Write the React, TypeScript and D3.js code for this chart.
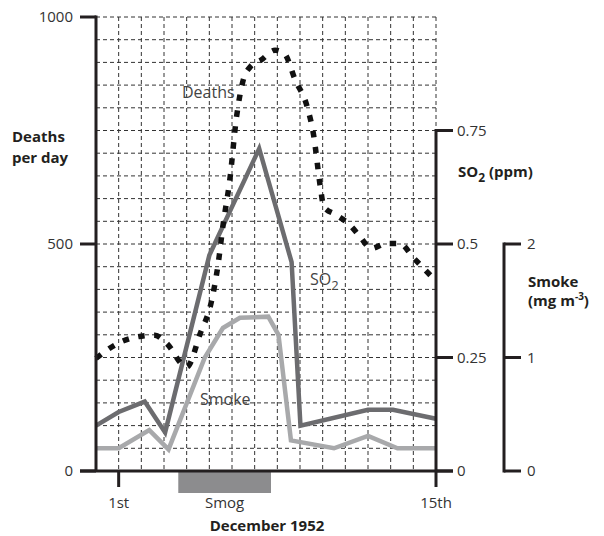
import React from 'react';
import * as d3 from 'd3';

// London smog, December 1952
const deathDays = [0, 1, 2, 2.6, 3.1, 4, 4.6, 5.1, 5.4, 5.6, 5.9, 6.2, 6.5, 6.8, 7.3, 7.9, 8.3, 8.8, 9.3, 9.6, 9.9, 10.05, 10.6, 11.2, 11.65, 12.15, 12.8, 13.4, 14, 15];
const deathsPerDay = [248, 282, 297, 299, 282, 229, 303, 375, 460, 540, 640, 780, 862, 890, 906, 927, 920, 860, 805, 740, 625, 582, 564, 542, 516, 490, 501, 501, 470, 418];

const so2Days = [0, 1, 2.15, 3.05, 5, 7.2, 8.63, 9.02, 12, 13.1, 15];
const so2Ppm = [0.1, 0.13, 0.153, 0.085, 0.475, 0.71, 0.46, 0.1, 0.135, 0.135, 0.115];

const smokeDays = [0, 1, 2.35, 3.2, 4.8, 5.6, 6.35, 7.6, 8.05, 8.6, 10.5, 12, 13.3, 15];
const smokeMg = [0.2, 0.2, 0.36, 0.19, 1.0, 1.26, 1.35, 1.36, 1.2, 0.27, 0.2, 0.31, 0.2, 0.2];

const deathTicks = [0, 500, 1000];
const so2Ticks = [0, 0.25, 0.5, 0.75];
const smokeTicks = [0, 1, 2];
const dayTicks = [1, 15];
const dayLabels = ['1st', '15th'];
const smogSpan = [3.63, 7.72];

const FONT = '"Open Sans", "DejaVu Sans", sans-serif';
const INK = '#231f20';

export default function App() {
  const width = 604;
  const height = 536;

  const x = d3.scaleLinear().domain([0, 15]).range([96, 436]);
  const yDeaths = d3.scaleLinear().domain([0, 1000]).range([471, 17]);
  const ySO2 = d3.scaleLinear().domain([0, 1]).range([471, 17]);
  const ySmoke = d3.scaleLinear().domain([0, 4]).range([471, 17]);

  const deathsLine = d3.line<number>()
    .x((d, i) => x(deathDays[i]))
    .y(d => yDeaths(d))
    .curve(d3.curveMonotoneX);
  const so2Line = d3.line<number>()
    .x((d, i) => x(so2Days[i]))
    .y(d => ySO2(d));
  const smokeLine = d3.line<number>()
    .x((d, i) => x(smokeDays[i]))
    .y(d => ySmoke(d));

  const gridH = d3.range(50, 1001, 50);
  const gridV = d3.range(1, 16);

  const x0 = x(0);
  const x15 = x(15);
  const base = yDeaths(0);
  const smokeAxisX = 504;

  return (
    <>
      <style>{`body{margin:0}`}</style>
      <svg width={width} height={height} style={{ display: 'block', fontFamily: FONT }}>
        {/* grid */}
        <g stroke="#333" strokeWidth={1} strokeDasharray="4 3">
          {gridH.map(v => (
            <line key={'h' + v} x1={x0} x2={x15} y1={yDeaths(v)} y2={yDeaths(v)} />
          ))}
          {gridV.map(d => (
            <line key={'v' + d} x1={x(d)} x2={x(d)} y1={yDeaths(1000)} y2={base} />
          ))}
        </g>

        {/* smog period */}
        <rect x={x(smogSpan[0])} width={x(smogSpan[1]) - x(smogSpan[0])} y={base + 1} height={21} fill="#8c8c8e" />

        {/* series */}
        <path d={smokeLine(smokeMg) || ''} fill="none" stroke="#a8a9ab" strokeWidth={4.5} strokeLinejoin="miter" />
        <path d={so2Line(so2Ppm) || ''} fill="none" stroke="#6c6c6f" strokeWidth={4.5} strokeLinejoin="miter" />
        <path d={deathsLine(deathsPerDay) || ''} fill="none" stroke="#111" strokeWidth={5.5} strokeDasharray="6.5 9.5" />

        {/* axes */}
        <g stroke={INK} strokeWidth={3}>
          <line x1={x0} x2={x0} y1={yDeaths(1000) - 1.5} y2={base} />
          {deathTicks.map(t => (
            <line key={t} x1={80} x2={x0} y1={yDeaths(t)} y2={yDeaths(t)} />
          ))}
          <line x1={80} x2={453} y1={base} y2={base} />
          {dayTicks.map(d => (
            <line key={d} x1={x(d)} x2={x(d)} y1={base} y2={base + 16} />
          ))}
          {/* SO2 axis */}
          <line x1={x15} x2={x15} y1={ySO2(0.75) - 1.5} y2={base} />
          {so2Ticks.map(t => (
            <line key={t} x1={x15} x2={453} y1={ySO2(t)} y2={ySO2(t)} />
          ))}
          {/* smoke axis */}
          <line x1={smokeAxisX} x2={smokeAxisX} y1={ySmoke(2) - 1.5} y2={ySmoke(0) + 1.5} />
          {smokeTicks.map(t => (
            <line key={t} x1={smokeAxisX} x2={521} y1={ySmoke(t)} y2={ySmoke(t)} />
          ))}
        </g>

        <g fill="#333" fontSize={15}>
          {deathTicks.map(t => (
            <text key={t} x={73} y={yDeaths(t)} dy="0.36em" textAnchor="end">{t}</text>
          ))}
          {so2Ticks.map(t => (
            <text key={t} x={457} y={ySO2(t)} dy="0.36em">{t}</text>
          ))}
          {smokeTicks.map(t => (
            <text key={t} x={527} y={ySmoke(t)} dy="0.36em">{t}</text>
          ))}
          {dayTicks.map((d, i) => (
            <text key={d} x={x(d)} y={508} textAnchor="middle">{dayLabels[i]}</text>
          ))}
          <text x={(x(smogSpan[0]) + x(smogSpan[1])) / 2} y={508} textAnchor="middle">Smog</text>
        </g>

        {/* series labels */}
        <g fill="#444" fontSize={16}>
          <text x={182} y={98}>Deaths</text>
          <text x={310} y={285}>SO<tspan fontSize={13} dy={5}>2</tspan></text>
          <text x={200} y={405}>Smoke</text>
        </g>

        {/* axis titles */}
        <g fill={INK} fontSize={15} fontWeight="bold">
          <text x={12} y={142}>Deaths</text>
          <text x={12} y={163}>per day</text>
          <text x={458} y={177}>SO<tspan fontSize={12} dy={5}>2</tspan><tspan dy={-5}> (ppm)</tspan></text>
          <text x={528} y={287}>Smoke</text>
          <text x={528} y={306}>(mg m<tspan fontSize={10} dy={-6}>-3</tspan><tspan dy={6}>)</tspan></text>
          <text x={267} y={531} textAnchor="middle">December 1952</text>
        </g>
      </svg>
    </>
  );
}
